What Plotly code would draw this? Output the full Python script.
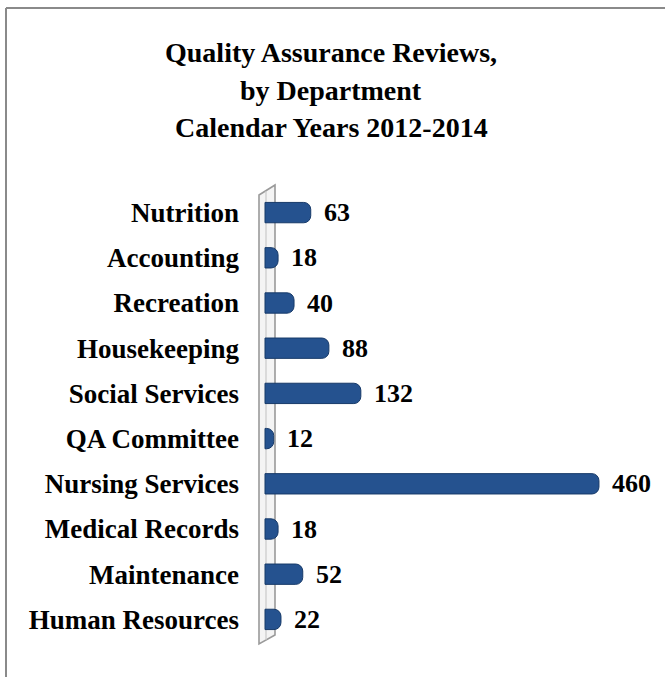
import plotly.graph_objects as go

# Reviews per department, top to bottom as listed
departments = [
    "Nutrition", "Accounting", "Recreation", "Housekeeping", "Social Services",
    "QA Committee", "Nursing Services", "Medical Records", "Maintenance",
    "Human Resources",
]
reviews = [63, 18, 40, 88, 132, 12, 460, 18, 52, 22]

title_lines = [
    "Quality Assurance Reviews,",
    "by Department",
    "Calendar Years 2012-2014",
]

W, H = 665, 677
M_L, M_R, M_T, M_B = 242, 0, 190, 35
PLOT_W = W - M_L - M_R
PLOT_H = H - M_T - M_B

# horizontal scale: zero sits a little to the right of the plot's left edge
PX_PER_UNIT = 0.726
ZERO_OFFSET = 23
x_min = -ZERO_OFFSET / PX_PER_UNIT
x_max = x_min + PLOT_W / PX_PER_UNIT

SERIF = "Liberation Serif, Times New Roman, serif"
BAR_FILL = "#25528F"
BAR_EDGE = "#173A69"


def px_to_paper(px, py):
    return (px - M_L) / PLOT_W, 1 - (py - M_T) / PLOT_H


fig = go.Figure()

fig.add_trace(go.Bar(
    x=reviews,
    y=departments,
    orientation="h",
    width=0.45,
    marker=dict(color=BAR_FILL, line=dict(color=BAR_EDGE, width=1), cornerradius=7),
    hoverinfo="x+y",
))

# value labels just past the end of each bar
annotations = []
for dept, val in zip(departments, reviews):
    annotations.append(dict(
        x=val, y=dept, xref="x", yref="y",
        text=f"<b>{val}</b>", showarrow=False,
        xanchor="left", yanchor="middle", xshift=11,
        font=dict(family=SERIF, size=26, color="black"),
    ))

# title block, one annotation per line
for i, line in enumerate(title_lines):
    tx, ty = px_to_paper(331, 53 + 37.5 * i)
    annotations.append(dict(
        x=tx, y=ty, xref="paper", yref="paper",
        xanchor="center", yanchor="middle", showarrow=False,
        text=f"<b>{line}</b>",
        font=dict(family=SERIF, size=28, color="black"),
    ))

shapes = []

# thin slanted wall behind the bars
wall = [(259, 195), (275, 185), (275, 635), (259, 644)]
pts = [px_to_paper(*p) for p in wall]
path = "M " + " L ".join(f"{x:.5f},{y:.5f}" for x, y in pts) + " Z"
shapes.append(dict(
    type="path", path=path, xref="paper", yref="paper", layer="below",
    fillcolor="#F4F4F4", line=dict(color="#9A9A9A", width=1.6),
))
# inner edge of the wall
ix0, iy0 = px_to_paper(266, 191)
ix1, iy1 = px_to_paper(266, 640)
shapes.append(dict(
    type="line", x0=ix0, y0=iy0, x1=ix1, y1=iy1, xref="paper", yref="paper",
    layer="below", line=dict(color="#C8C8C8", width=1.2),
))

# outer frame (top and left edges)
fx0, fy0 = px_to_paper(6, 8)
fx1, _ = px_to_paper(W + 5, 8)
_, fy1 = px_to_paper(6, H + 5)
shapes.append(dict(type="line", x0=fx0, y0=fy0, x1=fx1, y1=fy0, xref="paper", yref="paper",
                   line=dict(color="#8A8A8A", width=2)))
shapes.append(dict(type="line", x0=fx0, y0=fy0, x1=fx0, y1=fy1, xref="paper", yref="paper",
                   line=dict(color="#8A8A8A", width=2)))

fig.update_layout(
    width=W, height=H,
    margin=dict(l=M_L, r=M_R, t=M_T, b=M_B, autoexpand=False),
    paper_bgcolor="white", plot_bgcolor="white",
    showlegend=False,
    annotations=annotations,
    shapes=shapes,
    xaxis=dict(range=[x_min, x_max], visible=False, fixedrange=True),
    yaxis=dict(
        categoryorder="array", categoryarray=departments, autorange="reversed",
        showgrid=False, zeroline=False, showline=False, ticks="",
        tickfont=dict(family=SERIF, size=27, color="black", weight="bold"),
        ticklabelstandoff=2,
    ),
)

fig.write_html("out.html")
